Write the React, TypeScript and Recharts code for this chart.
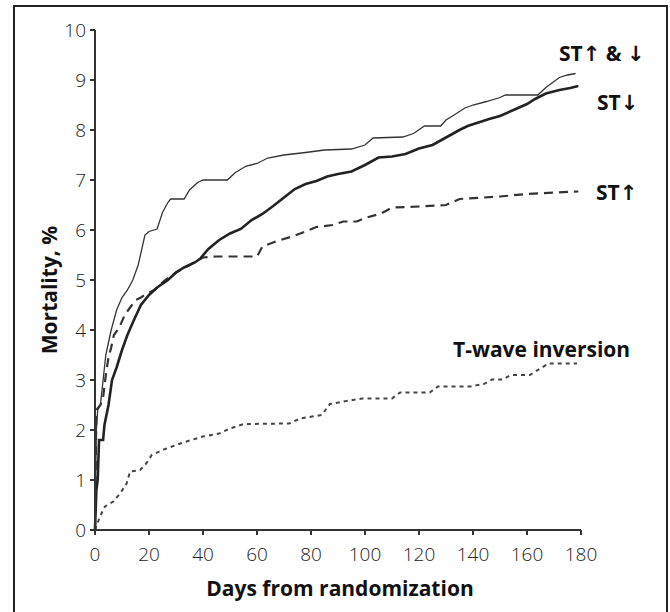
import { LineChart, Line, XAxis, YAxis } from 'recharts';

// [day, mortality %]
const stBoth: [number, number][] = [
  [0, 0], [0.5, 2.0], [1, 2.4], [2, 2.5], [3, 3.0], [4, 3.5], [5, 3.75], [6, 4.0],
  [8, 4.4], [10, 4.65], [12, 4.8], [14, 5.0], [16, 5.3], [18.5, 5.9], [20, 5.97],
  [23, 6.02], [25, 6.35], [27, 6.55], [28, 6.62], [33, 6.62], [35, 6.8], [38, 6.95],
  [40, 7.0], [49, 7.0], [52, 7.15], [56, 7.28], [60, 7.33], [64, 7.44], [70, 7.5],
  [78, 7.55], [85, 7.6], [95, 7.62], [100, 7.7], [103, 7.84], [114, 7.86], [118, 7.93],
  [122, 8.08], [128, 8.08], [130, 8.2], [133, 8.3], [137, 8.44], [140, 8.5], [145, 8.57],
  [150, 8.65], [152, 8.7], [164, 8.7], [167, 8.85], [169, 8.93], [172, 9.05], [175, 9.1],
  [178, 9.13],
];

const stDown: [number, number][] = [
  [0, 0], [0.5, 0.8], [1, 1.0], [1.5, 1.8], [3, 1.8], [3.5, 2.1], [5, 2.5], [6.3, 3.0],
  [8, 3.25], [10, 3.6], [12, 3.9], [14, 4.15], [17, 4.5], [20, 4.7], [23, 4.85], [27, 5.0],
  [30, 5.15], [33, 5.25], [37, 5.35], [39, 5.43], [42, 5.62], [46, 5.8], [50, 5.93],
  [54, 6.02], [58, 6.2], [62, 6.32], [66, 6.48], [70, 6.65], [74, 6.82], [78, 6.92],
  [82, 6.98], [86, 7.07], [90, 7.12], [95, 7.17], [100, 7.3], [105, 7.45], [110, 7.47],
  [115, 7.52], [120, 7.63], [125, 7.7], [130, 7.85], [135, 8.0], [138, 8.08], [142, 8.15],
  [146, 8.22], [150, 8.28], [155, 8.4], [160, 8.52], [163, 8.62], [167, 8.73], [172, 8.8],
  [176, 8.84], [179, 8.88],
];

const stUp: [number, number][] = [
  [0, 0], [0.5, 2.4], [2, 2.5], [3, 2.65], [4, 3.1], [5, 3.45], [6, 3.65], [7, 3.9],
  [9, 4.05], [11, 4.3], [13, 4.45], [15, 4.6], [17, 4.65], [19, 4.72], [22, 4.8], [26, 5.0],
  [30, 5.15], [35, 5.3], [40, 5.45], [45, 5.47], [60, 5.47], [62, 5.67], [67, 5.77],
  [73, 5.87], [78, 5.97], [82, 6.06], [88, 6.1], [92, 6.17], [97, 6.17], [100, 6.24],
  [106, 6.33], [110, 6.45], [120, 6.47], [130, 6.5], [135, 6.62], [150, 6.67], [160, 6.72],
  [170, 6.75], [179, 6.77],
];

const tWave: [number, number][] = [
  [0, 0], [1.85, 0.27], [3.7, 0.47], [6.8, 0.57], [9.3, 0.73], [11.7, 0.93], [13, 1.17],
  [16.7, 1.2], [19, 1.33], [21, 1.5], [25, 1.6], [30, 1.7], [35, 1.79], [40, 1.87],
  [46, 1.93], [50, 2.03], [55, 2.12], [72, 2.13], [76, 2.23], [84, 2.3], [87, 2.52],
  [92, 2.57], [99, 2.63], [110, 2.63], [113, 2.75], [124, 2.75], [127, 2.87], [139, 2.87],
  [144, 2.92], [147, 3.01], [151, 3.01], [154, 3.1], [161, 3.1], [164, 3.2], [168, 3.33],
  [178.5, 3.33],
];

const xTicks = [0, 20, 40, 60, 80, 100, 120, 140, 160, 180];
const yTicks = [0, 1, 2, 3, 4, 5, 6, 7, 8, 9, 10];

const toPoints = (arr: [number, number][]) => arr.map(([day, v]) => ({ day, v }));

const font = "'Open Sans', 'DejaVu Sans', sans-serif";
const tickStyle = { fill: '#222', fontSize: 19, fontFamily: font, fontWeight: 300 };
const labelStyle = { fill: '#111', fontSize: 21, fontFamily: font, fontWeight: 700 };

export default function App() {
  return (
    <div style={{ position: 'absolute', left: 0, top: 0, width: 670, height: 612, overflow: 'hidden', background: '#fff' }}>
      <div
        style={{
          position: 'absolute',
          left: 13,
          top: 5,
          width: 651,
          height: 640,
          border: '2px solid #222',
        }}
      />
      <LineChart
        width={670}
        height={612}
        margin={{ top: 30, right: 89, bottom: 42, left: 0 }}
        style={{ position: 'absolute', left: 0, top: 0 }}
      >
        <XAxis
          type='number'
          dataKey='day'
          domain={[0, 180]}
          ticks={xTicks}
          interval={0}
          height={40}
          tickSize={5}
          tickMargin={13}
          stroke='#333'
          strokeWidth={2}
          tick={tickStyle}
        />
        <YAxis
          type='number'
          dataKey='v'
          domain={[0, 10]}
          ticks={yTicks}
          interval={0}
          width={95}
          tickSize={5}
          tickMargin={4}
          stroke='#333'
          strokeWidth={2}
          tick={tickStyle}
        />
        <Line data={toPoints(tWave)} dataKey='v' type='linear' stroke='#444' strokeWidth={2} strokeDasharray='4 4' dot={false} isAnimationActive={false} />
        <Line data={toPoints(stUp)} dataKey='v' type='linear' stroke='#333' strokeWidth={2.2} strokeDasharray='9 6' dot={false} isAnimationActive={false} />
        <Line data={toPoints(stDown)} dataKey='v' type='linear' stroke='#222' strokeWidth={2.6} dot={false} isAnimationActive={false} />
        <Line data={toPoints(stBoth)} dataKey='v' type='linear' stroke='#333' strokeWidth={1.3} dot={false} isAnimationActive={false} />
      </LineChart>
      <svg width={670} height={612} style={{ position: 'absolute', left: 0, top: 0, pointerEvents: 'none' }}>
        <text x={559} y={61} style={labelStyle}>ST↑ &amp; ↓</text>
        <text x={597} y={110} style={labelStyle}>ST↓</text>
        <text x={596} y={200} style={labelStyle}>ST↑</text>
        <text x={453} y={357} style={labelStyle}>T-wave inversion</text>
        <text x={340} y={596} textAnchor='middle' style={labelStyle}>Days from randomization</text>
        <text x={57} y={290} textAnchor='middle' transform='rotate(-90 57 290)' style={labelStyle}>Mortality, %</text>
      </svg>
    </div>
  );
}
